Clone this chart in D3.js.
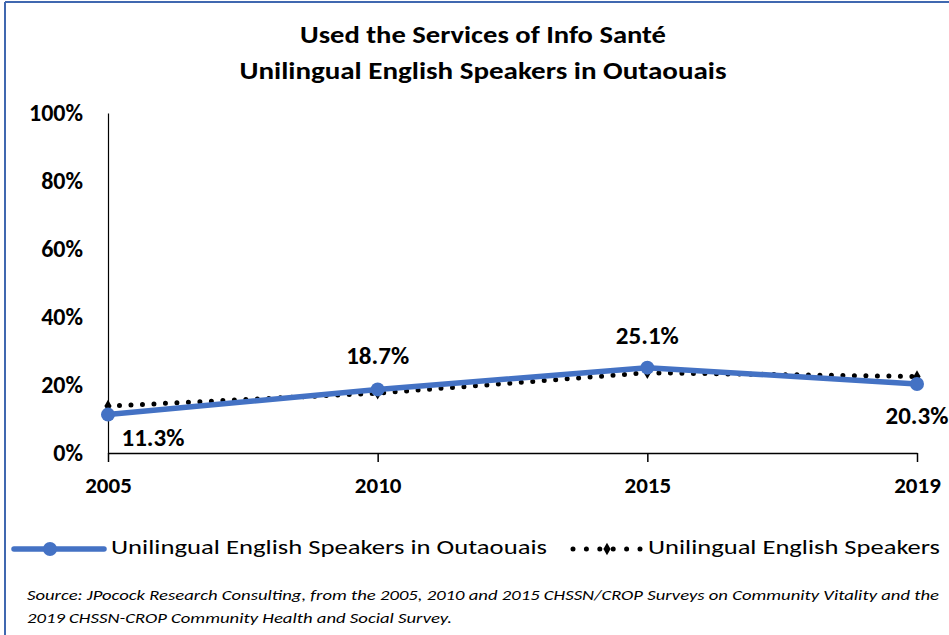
<!DOCTYPE html>
<html><head><meta charset="utf-8">
<script src="https://cdn.jsdelivr.net/npm/d3@7"></script>
<style>
html,body{margin:0;padding:0;background:#fff;}
svg{display:block;}
text{font-family:Calibri,Carlito,Lato,"Open Sans",sans-serif;}
</style></head>
<body>
<svg id="chart" width="949" height="635"></svg>
<script>
const years = ["2005","2010","2015","2019"];
const outaouais = [0.113, 0.187, 0.251, 0.203];
const allUnilingual = [0.138, 0.176, 0.236, 0.225];
const yTicks = [0, 0.2, 0.4, 0.6, 0.8, 1.0];
const seriesNames = ["Unilingual English Speakers in Outaouais", "Unilingual English Speakers"];
const titleLines = ["Used the Services of Info Santé", "Unilingual English Speakers in Outaouais"];
const sourceLines = ["Source: JPocock Research Consulting, from the 2005, 2010  and 2015  CHSSN/CROP Surveys on Community Vitality and the",
                     "2019  CHSSN-CROP Community Health and Social Survey."];

const svg = d3.select("#chart");
const blue = "#4472C4";

// frame
svg.append("rect").attr("x",0).attr("y",0).attr("width",949).attr("height",635).attr("fill","#fff");
svg.append("line").attr("x1",5).attr("x2",949).attr("y1",2).attr("y2",2).attr("stroke","#4068B0").attr("stroke-width",2);
svg.append("line").attr("x1",5).attr("x2",5).attr("y1",2).attr("y2",635).attr("stroke","#4068B0").attr("stroke-width",2);

// title
const tl = [{y:43,len:366},{y:79,len:487}];
titleLines.forEach((t,i)=>{
  svg.append("text").attr("x",483).attr("y",tl[i].y).attr("text-anchor","middle")
    .attr("font-size",24).attr("font-weight","bold").attr("fill","#000")
    .attr("textLength",tl[i].len).attr("lengthAdjust","spacingAndGlyphs").text(t);
});

const x = d3.scalePoint().domain(years).range([108,917]);
const y = d3.scaleLinear().domain([0,1]).range([453,113]);

// y axis
const yAx = svg.append("g").attr("transform","translate(108,0)")
  .call(d3.axisLeft(y).tickValues(yTicks).tickFormat(d3.format(".0%")).tickSize(0).tickPadding(25));
yAx.select(".domain").attr("stroke","#000").attr("stroke-width",1.2);
yAx.selectAll("text").attr("font-size",24).attr("font-weight","bold").attr("fill","#000")
  .style("font-family","Calibri,Carlito,Lato,sans-serif");

// x axis
const xAx = svg.append("g").attr("transform","translate(0,453)")
  .call(d3.axisBottom(x).tickSizeInner(9).tickSizeOuter(0).tickPadding(15));
xAx.select(".domain").attr("stroke","#000").attr("stroke-width",1.5);
xAx.selectAll(".tick line").attr("stroke","#000").attr("stroke-width",1.5);
xAx.selectAll("text").attr("font-size",23).attr("font-weight","bold").attr("fill","#000")
  .style("font-family","Calibri,Carlito,Lato,sans-serif");

const line = d3.line().x((d,i)=>x(years[i])).y(d=>y(d));

// dotted black series
svg.append("path").datum(allUnilingual).attr("d",line).attr("fill","none")
  .attr("stroke","#000").attr("stroke-width",5).attr("stroke-linecap","round")
  .attr("stroke-dasharray","0 11.5");
const diamond = d3.symbol().type(d3.symbolDiamond).size(45);
svg.selectAll(".dm").data(allUnilingual).join("path")
  .attr("transform",(d,i)=>`translate(${x(years[i])},${y(d)})`).attr("d",diamond).attr("fill","#000");

// blue series
svg.append("path").datum(outaouais).attr("d",line).attr("fill","none")
  .attr("stroke",blue).attr("stroke-width",5.5).attr("stroke-linejoin","round");
svg.selectAll(".bc").data(outaouais).join("circle")
  .attr("cx",(d,i)=>x(years[i])).attr("cy",d=>y(d)).attr("r",7).attr("fill",blue);

// labels
const labelOff = [{dx:45,dy:25},{dx:0,dy:-31},{dx:0,dy:-30},{dx:0,dy:34}];
svg.selectAll(".lbl").data(outaouais).join("text")
  .attr("x",(d,i)=>x(years[i])+labelOff[i].dx).attr("y",(d,i)=>y(d)+labelOff[i].dy)
  .attr("text-anchor","middle").attr("dominant-baseline","middle")
  .attr("font-size",25).attr("fill","#000").attr("font-weight","600")
  .text(d=>d3.format(".1%")(d));

// legend
const lg = svg.append("g");
lg.append("line").attr("x1",14).attr("x2",104).attr("y1",549).attr("y2",549).attr("stroke",blue).attr("stroke-width",5.5).attr("stroke-linecap","round");
lg.append("circle").attr("cx",50).attr("cy",549).attr("r",7).attr("fill",blue);
lg.append("text").attr("x",111).attr("y",549).attr("dominant-baseline","middle").attr("font-size",21)
  .attr("textLength",436).attr("lengthAdjust","spacingAndGlyphs").text(seriesNames[0]);
lg.append("line").attr("x1",573).attr("x2",640).attr("y1",549).attr("y2",549).attr("stroke","#000").attr("stroke-width",5).attr("stroke-linecap","round").attr("stroke-dasharray","0 13.4");
lg.append("path").attr("transform","translate(607,549)").attr("d",diamond).attr("fill","#000");
lg.append("text").attr("x",648).attr("y",549).attr("dominant-baseline","middle").attr("font-size",21)
  .attr("textLength",292).attr("lengthAdjust","spacingAndGlyphs").text(seriesNames[1]);

// source
const sl = [{y:596,len:912},{y:619,len:425}];
sourceLines.forEach((t,i)=>{
  svg.append("text").attr("x",27).attr("y",sl[i].y).attr("dominant-baseline","middle")
    .attr("font-size",15).attr("font-style","italic").attr("fill","#000")
    .attr("textLength",sl[i].len).attr("lengthAdjust","spacingAndGlyphs").text(t);
});
</script>
</body></html>
